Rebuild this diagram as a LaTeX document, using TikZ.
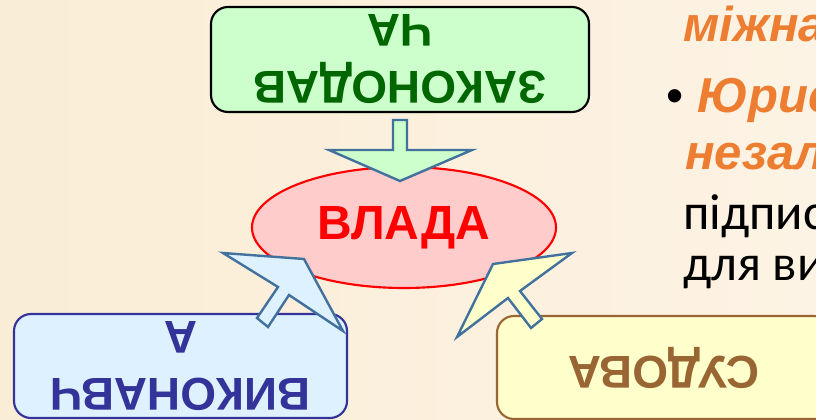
\documentclass[tikz,border=0pt]{standalone}
\usepackage{fontspec}
\setmainfont{Liberation Sans}
\newfontfamily\bodyfont{Carlito}
\usetikzlibrary{shapes,arrows}
\usetikzlibrary{calc}

\definecolor{bgleft}{RGB}{250,237,214}
\definecolor{bgright}{RGB}{253,243,228}
\definecolor{zakfill}{RGB}{204,255,204}
\definecolor{zaktext}{RGB}{0,102,0}
\definecolor{vykfill}{RGB}{222,241,255}
\definecolor{vykline}{RGB}{51,51,153}
\definecolor{sudfill}{RGB}{255,255,204}
\definecolor{sudline}{RGB}{153,102,51}
\definecolor{vladafill}{RGB}{255,204,204}
\definecolor{arrline}{RGB}{65,113,156}
\definecolor{orangetext}{RGB}{237,125,49}

\begin{document}
\begin{tikzpicture}[x=0.75pt, y=-0.75pt,
	gilka/.style={line width=1.6pt, rounded corners=12.75pt, rotate=180, align=center,
		inner sep=0pt, font=\bfseries\fontsize{34.5}{42.75}\selectfont},
	blockarr/.style={draw=arrline, line width=1.8pt, line join=miter},
	pravo/.style={anchor=base west, inner sep=0pt},
	orfont/.style={text=orangetext, font=\bfseries\itshape\fontsize{36.75}{44}\selectfont},
	chfont/.style={text=black, font=\bodyfont\fontsize{38}{46}\selectfont}]
	\useasboundingbox (0,0) rectangle (816,420);
	\clip (0,0) rectangle (816,420);
	
	% background
	\shade[left color=bgleft, right color=bgright] (0,0) rectangle (816,420);
	
	% power in the centre
	\node[ellipse, draw=red, line width=1.6pt, fill=vladafill, text=red,
		minimum width=304*0.75pt, minimum height=121*0.75pt, inner sep=0pt,
		font=\bfseries\fontsize{36}{43}\selectfont] (vlada) at (404,227.5) {ВЛАДА};
	
	% three branches
	\node[gilka, draw=black, fill=zakfill, text=zaktext,
		minimum width=378*0.75pt, minimum height=105*0.75pt] (zak) at (400,59.5) {ЗАКОНОДАВ\\ЧА};
	\node[gilka, draw=vykline, fill=vykfill, text=vykline,
		minimum width=333*0.75pt, minimum height=104*0.75pt] (vyk) at (180.5,366) {ВИКОНАВЧ\\А};
	\node[gilka, draw=sudline, fill=sudfill, text=sudline,
		minimum width=334*0.75pt, minimum height=103*0.75pt] (sud) at (664,367.5) {СУДОВА};
	
	% block arrows
	\draw[blockarr, fill=zakfill] (393,120) -- (407,120) -- (407,150) -- (472,150)
		-- (400,181) -- (329,150) -- (393,150) -- cycle;
	\draw[blockarr, fill=vykfill] (304,259) -- (343,331) -- (289,295) -- (268,327)
		-- (257,318) -- (278,287) -- (223,253) -- cycle;
	\draw[blockarr, fill=sudfill] (493,264) -- (572,253) -- (520,291) -- (542,319)
		-- (531,328) -- (508,298) -- (457,337) -- cycle;
	
	% text on the right
	\node[pravo, orfont] (mizh) at (683,42) {міжнародних};
	\node[pravo, font=\fontsize{36.75}{44}\selectfont] (bul) at (666,113) {•};
	\node[pravo, orfont] (yur) at (697,113) {Юрисдикційна};
	\node[pravo, orfont] (nez) at (685,170) {незалежність};
	\node[pravo, chfont] (pid) at (683,229) {підписання};
	\node[pravo, chfont] (dlya) at (683,280) {для виконання};
\end{tikzpicture}
\end{document}
